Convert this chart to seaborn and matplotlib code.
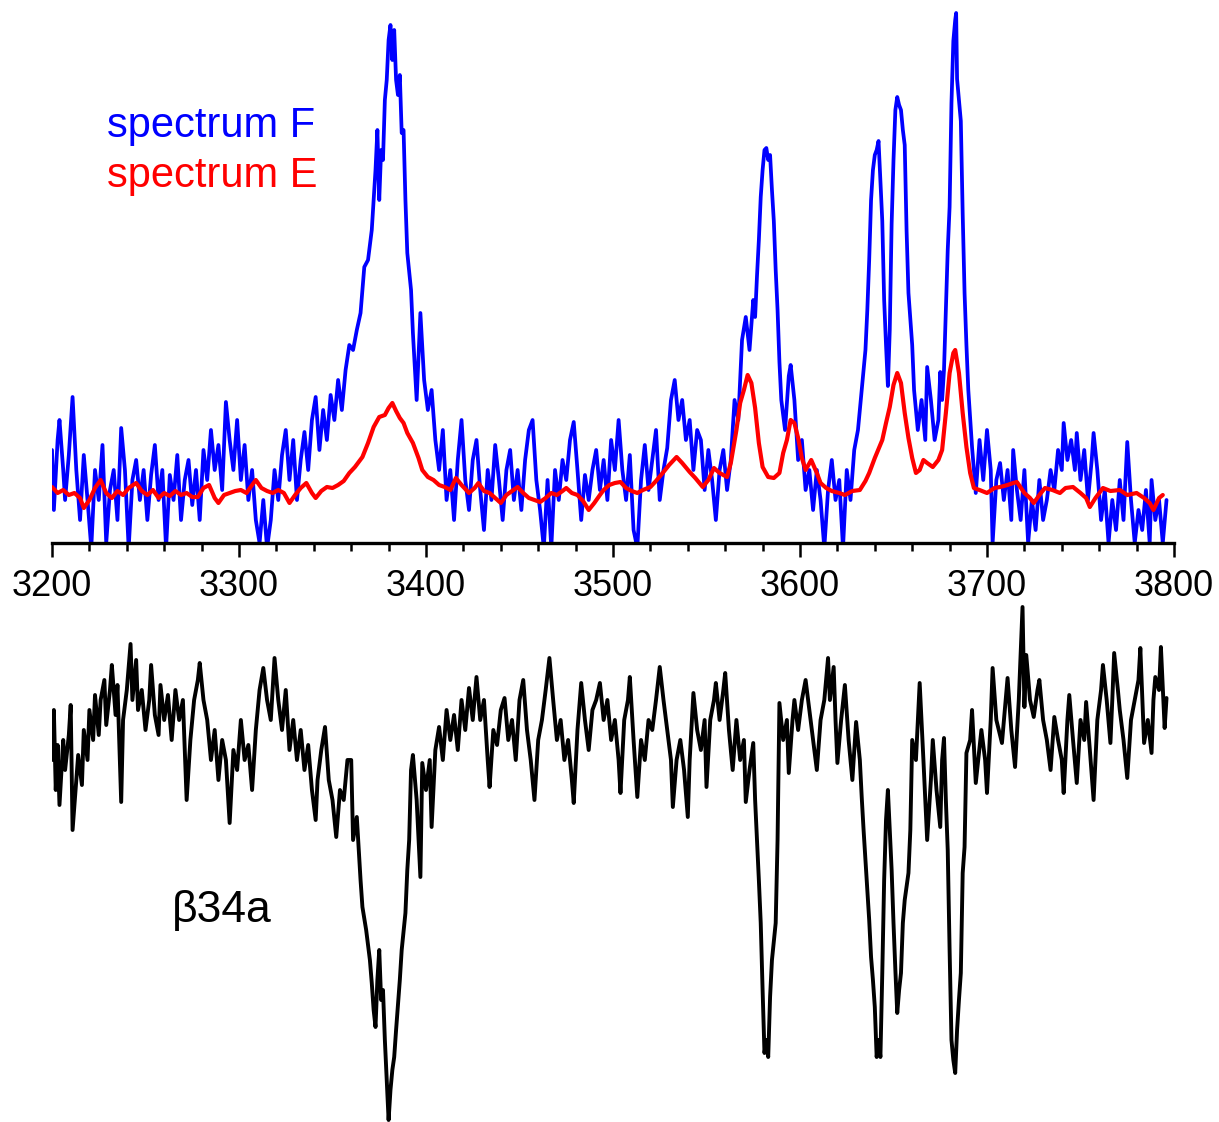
import numpy as np
import pandas as pd
import matplotlib
matplotlib.use("Agg")
import matplotlib.pyplot as plt
import seaborn as sns

# ---- data (wavenumber, cm^-1 ; intensity in arbitrary units) ----
wn_F = [3200, 3201, 3203, 3204, 3206, 3207, 3209, 3211, 3213, 3215, 3217, 3219, 3221, 3223, 3225, 3227, 3229,
        3231, 3233, 3235, 3237, 3239, 3241, 3243, 3245, 3247, 3249, 3251, 3253, 3255, 3257, 3259, 3261, 3263,
        3265, 3267, 3269, 3271, 3273, 3275, 3277, 3279, 3281, 3283, 3285, 3287, 3289, 3291, 3293, 3295, 3297,
        3299, 3301, 3303, 3305, 3307, 3309, 3311, 3313, 3315, 3317, 3319, 3321, 3323, 3325, 3327, 3329, 3331,
        3333, 3335, 3337, 3339, 3341, 3343, 3345, 3347, 3349, 3351, 3353, 3355, 3357, 3359, 3361, 3363, 3365,
        3367, 3369, 3371, 3372, 3373, 3374, 3375, 3376, 3377, 3378, 3379, 3380, 3381, 3382, 3383, 3384, 3385,
        3386, 3387, 3388, 3389, 3390, 3392, 3393, 3395, 3397, 3399, 3401, 3403, 3405, 3407, 3409, 3411, 3413,
        3415, 3417, 3419, 3421, 3423, 3425, 3427, 3429, 3431, 3433, 3435, 3437, 3439, 3441, 3443, 3445, 3447,
        3449, 3451, 3453, 3455, 3457, 3459, 3461, 3463, 3465, 3467, 3469, 3471, 3473, 3475, 3477, 3479, 3481,
        3483, 3485, 3487, 3489, 3491, 3493, 3495, 3497, 3499, 3501, 3503, 3505, 3507, 3509, 3511, 3513, 3515,
        3517, 3519, 3521, 3523, 3525, 3527, 3529, 3531, 3533, 3535, 3537, 3539, 3541, 3543, 3545, 3547, 3549,
        3551, 3553, 3555, 3557, 3559, 3561, 3563, 3565, 3567, 3569, 3571, 3573, 3575, 3576, 3577, 3578, 3579,
        3580, 3581, 3582, 3583, 3584, 3585, 3586, 3587, 3588, 3589, 3590, 3592, 3594, 3595, 3597, 3599, 3601,
        3603, 3605, 3607, 3609, 3611, 3613, 3615, 3617, 3619, 3621, 3623, 3625, 3627, 3629, 3631, 3633, 3635,
        3636, 3637, 3638, 3639, 3640, 3641, 3642, 3643, 3644, 3645, 3646, 3647, 3648, 3649, 3650, 3651, 3652,
        3653, 3654, 3655, 3656, 3657, 3658, 3660, 3661, 3663, 3665, 3667, 3668, 3670, 3672, 3674, 3675, 3676,
        3677, 3678, 3679, 3680, 3681, 3682, 3683, 3683.5, 3684, 3685, 3686, 3687, 3688, 3689, 3690, 3692, 3694,
        3696, 3698, 3700, 3702, 3703, 3705, 3707, 3709, 3711, 3713, 3714, 3716, 3718, 3720, 3722, 3724, 3726,
        3728, 3730, 3732, 3734, 3736, 3738, 3740, 3741, 3743, 3745, 3747, 3748, 3750, 3752, 3754, 3756, 3757,
        3759, 3761, 3763, 3765, 3767, 3769, 3771, 3773, 3775, 3777, 3779, 3781, 3783, 3785, 3787, 3788, 3790,
        3792, 3794, 3796]
spec_F = [93, 33, 103, 123, 73, 43, 88, 146, 73, 23, 88, 43, -5, 73, 43, 98, 0,
          53, 73, 23, 115, 73, -5, 63, 83, 43, 73, 23, 68, 98, 43, 73, -5, 68,
          43, 88, 23, 63, 83, 38, 73, 23, 93, 63, 113, 73, 98, 53, 141, 103, 73,
          123, 63, 98, 43, 73, 23, 0, 43, -5, 23, 73, 43, 88, 113, 63, 103, 43,
          83, 111, 73, 123, 146, 93, 133, 103, 148, 123, 163, 133, 173, 198, 193, 213, 230,
          276, 283, 313, 343, 373, 413, 343, 393, 383, 443, 463, 503, 518, 483, 513, 463, 448,
          468, 410, 413, 343, 290, 253, 210, 143, 230, 163, 133, 153, 103, 73, 113, 43, 73,
          23, 83, 123, 63, 33, 83, 103, 53, 13, 73, 43, 98, 63, 23, 73, 93, 43,
          73, 33, 83, 113, 123, 63, 33, -5, 63, -5, 73, 43, 83, 63, 103, 121, 73,
          23, 68, 43, 73, 93, 53, 83, 43, 103, 73, 123, 73, 43, 88, 13, -5, 63,
          98, 53, 83, 113, 43, 73, 95, 143, 163, 123, 143, 103, 123, 73, 113, 103, 53,
          93, 63, 23, 73, 93, 53, 83, 143, 123, 203, 226, 193, 243, 226, 267, 303, 346,
          373, 393, 395, 383, 388, 353, 322, 273, 233, 181, 143, 113, 167, 178, 143, 83, 103,
          53, 73, 33, 73, 43, -5, 53, 83, 43, 63, -5, 73, 43, 93, 113, 153, 193,
          233, 283, 343, 373, 388, 393, 402, 363, 322, 243, 198, 157, 213, 319, 383, 433, 446,
          438, 433, 413, 398, 312, 250, 198, 153, 113, 143, 103, 176, 143, 103, 123, 171, 143,
          173, 233, 293, 336, 440, 502, 523, 530, 464, 443, 422, 329, 250, 198, 153, 96, 50,
          103, 63, 113, 73, 0, 63, 80, 43, 73, 23, 93, 53, 23, 73, 0, 43, 13,
          63, 23, 43, 73, 53, 93, 73, 120, 83, 103, 73, 110, 63, 93, 43, 83, 110,
          73, 23, 53, 0, 43, 13, 63, 23, 101, 43, 0, 33, 13, 53, 0, 63, 23,
          43, 0, 43]

wn_E = [3200, 3203, 3206, 3209, 3212, 3215, 3217, 3220, 3223, 3226, 3229, 3232, 3235, 3238, 3241, 3245, 3248,
        3251, 3254, 3257, 3260, 3263, 3266, 3269, 3272, 3275, 3278, 3281, 3284, 3287, 3289, 3292, 3295, 3298,
        3301, 3304, 3307, 3309, 3312, 3315, 3318, 3321, 3324, 3327, 3330, 3333, 3336, 3339, 3341, 3344, 3347,
        3350, 3353, 3356, 3359, 3362, 3366, 3369, 3372, 3375, 3378, 3380, 3382, 3384, 3386, 3388, 3390, 3393,
        3396, 3398, 3401, 3404, 3407, 3410, 3413, 3416, 3419, 3423, 3426, 3428, 3431, 3434, 3437, 3440, 3443,
        3446, 3449, 3452, 3455, 3458, 3461, 3464, 3467, 3470, 3473, 3475, 3478, 3481, 3484, 3487, 3490, 3493,
        3495, 3498, 3501, 3504, 3507, 3510, 3513, 3516, 3520, 3523, 3527, 3530, 3534, 3537, 3541, 3544, 3548,
        3551, 3554, 3557, 3561, 3563, 3566, 3568, 3570, 3572, 3574, 3576, 3578, 3580, 3583, 3586, 3589, 3591,
        3593, 3595, 3597, 3599, 3601, 3603, 3606, 3609, 3611, 3614, 3617, 3621, 3624, 3628, 3632, 3635, 3637,
        3640, 3644, 3646, 3648, 3650, 3652, 3654, 3656, 3658, 3660, 3662, 3664, 3666, 3668, 3671, 3674, 3676,
        3678, 3680, 3682, 3683, 3685, 3687, 3689, 3691, 3693, 3696, 3700, 3704, 3707, 3711, 3714, 3716, 3720,
        3723, 3725, 3728, 3731, 3735, 3739, 3742, 3746, 3750, 3753, 3755, 3758, 3762, 3766, 3771, 3775, 3780,
        3784, 3787, 3789, 3792, 3794]
spec_E = [56, 50, 53, 48, 50, 45, 35, 43, 55, 63, 50, 45, 52, 48, 55, 60, 52,
          48, 53, 45, 50, 47, 52, 48, 50, 46, 46, 55, 58, 45, 40, 48, 50, 52,
          53, 50, 58, 63, 55, 52, 50, 53, 50, 40, 48, 55, 60, 50, 45, 52, 56,
          55, 58, 62, 70, 76, 86, 100, 116, 126, 128, 135, 140, 132, 125, 120, 110, 100,
          85, 73, 66, 63, 58, 56, 53, 65, 58, 50, 55, 60, 52, 50, 45, 40, 48,
          52, 56, 50, 45, 43, 41, 45, 50, 48, 52, 55, 50, 48, 42, 33, 40, 48,
          53, 58, 60, 61, 55, 52, 50, 53, 56, 62, 71, 78, 86, 80, 71, 65, 56,
          63, 75, 70, 66, 80, 113, 140, 153, 168, 160, 135, 100, 76, 66, 65, 70, 90,
          103, 123, 120, 105, 85, 73, 83, 70, 60, 55, 52, 50, 48, 52, 53, 62, 70,
          85, 103, 120, 136, 158, 170, 160, 130, 105, 85, 70, 73, 83, 80, 76, 83, 93,
          130, 170, 190, 193, 170, 130, 96, 70, 55, 53, 50, 55, 56, 58, 60, 61, 50,
          45, 40, 48, 55, 53, 50, 55, 56, 50, 45, 36, 45, 55, 52, 53, 48, 50,
          45, 40, 33, 45, 48]

wn_b34a = [3200, 3201, 3202, 3203, 3204, 3206, 3207, 3209, 3210, 3211, 3213, 3214, 3216, 3217, 3219, 3220, 3222,
           3223, 3225, 3226, 3228, 3229, 3231, 3232, 3234, 3235, 3237, 3238, 3240, 3242, 3243, 3245, 3246, 3248,
           3250, 3252, 3253, 3255, 3257, 3258, 3260, 3262, 3264, 3266, 3268, 3270, 3272, 3274, 3276, 3278, 3279,
           3281, 3283, 3285, 3287, 3289, 3291, 3293, 3295, 3297, 3299, 3301, 3303, 3305, 3307, 3309, 3311, 3313,
           3315, 3317, 3319, 3321, 3323, 3325, 3327, 3329, 3331, 3333, 3335, 3337, 3339, 3341, 3342, 3344, 3346,
           3348, 3350, 3352, 3354, 3356, 3358, 3360, 3361, 3363, 3365, 3366, 3368, 3370, 3371, 3372, 3373, 3374,
           3375, 3376, 3377, 3378, 3379, 3380, 3381, 3382, 3383, 3384, 3386, 3387, 3389, 3390, 3391, 3392, 3393,
           3395, 3397, 3398, 3400, 3402, 3403, 3405, 3407, 3409, 3411, 3413, 3415, 3417, 3419, 3421, 3423, 3425,
           3427, 3429, 3431, 3433, 3434, 3436, 3438, 3440, 3442, 3444, 3446, 3448, 3450, 3452, 3454, 3456, 3458,
           3460, 3462, 3464, 3466, 3468, 3470, 3472, 3474, 3476, 3478, 3479, 3481, 3483, 3485, 3487, 3489, 3491,
           3493, 3495, 3497, 3499, 3501, 3503, 3504, 3506, 3508, 3509, 3511, 3513, 3515, 3517, 3519, 3521, 3523,
           3525, 3527, 3529, 3531, 3532, 3534, 3536, 3538, 3540, 3541, 3543, 3545, 3547, 3549, 3550, 3552, 3554,
           3555, 3557, 3559, 3560, 3562, 3564, 3566, 3568, 3570, 3571, 3573, 3575, 3576, 3577, 3578, 3579, 3580,
           3581, 3582, 3583, 3584, 3585, 3587, 3588, 3589, 3591, 3593, 3594, 3596, 3597, 3599, 3601, 3603, 3605,
           3607, 3609, 3611, 3613, 3615, 3616, 3618, 3619, 3620, 3622, 3624, 3626, 3628, 3630, 3632, 3633, 3634,
           3635, 3637, 3638, 3639, 3640, 3641, 3642, 3643, 3644, 3645, 3646, 3647, 3648, 3649, 3650, 3651, 3652,
           3653, 3654, 3655, 3656, 3658, 3659, 3660, 3662, 3664, 3666, 3668, 3670, 3671, 3673, 3675, 3676, 3677,
           3678, 3679, 3680, 3681, 3682, 3683, 3684, 3685, 3686, 3687, 3688, 3689, 3691, 3692, 3694, 3697, 3699,
           3700, 3702, 3703, 3705, 3708, 3710, 3711, 3713, 3715, 3717, 3719, 3720, 3721, 3723, 3725, 3727, 3728,
           3730, 3732, 3734, 3736, 3738, 3740, 3741, 3743, 3744, 3746, 3748, 3750, 3752, 3753, 3755, 3757, 3759,
           3761, 3762, 3764, 3766, 3767, 3768, 3770, 3771, 3773, 3775, 3777, 3779, 3781, 3782, 3784, 3786, 3788,
           3789, 3790, 3792, 3793, 3795, 3796]
spec_b34a = [362, 412, 332, 377, 317, 382, 352, 387, 417, 292, 342, 367, 337, 392, 362, 412, 382,
             427, 387, 422, 442, 397, 432, 457, 407, 437, 320, 402, 432, 478, 422, 462, 412, 432,
             392, 422, 457, 407, 387, 437, 402, 427, 382, 432, 402, 422, 322, 382, 422, 442, 459,
             422, 402, 362, 392, 342, 382, 362, 299, 372, 352, 402, 362, 377, 332, 392, 432, 454,
             422, 402, 464, 422, 392, 432, 372, 402, 362, 392, 352, 377, 332, 302, 342, 372, 395,
             342, 322, 285, 332, 322, 362, 362, 282, 305, 242, 215, 192, 162, 139, 112, 95, 142,
             172, 122, 132, 82, 42, 2, 32, 52, 65, 92, 142, 172, 209, 252, 282, 352, 367,
             322, 245, 359, 332, 362, 295, 372, 395, 362, 412, 382, 407, 372, 422, 392, 434, 402,
             445, 402, 422, 362, 335, 392, 377, 412, 424, 382, 402, 362, 422, 442, 392, 362, 322,
             382, 402, 432, 464, 422, 382, 402, 362, 382, 342, 319, 392, 439, 402, 372, 412, 422,
             439, 402, 422, 382, 402, 362, 329, 402, 422, 445, 382, 325, 382, 362, 402, 392, 422,
             455, 422, 392, 362, 315, 362, 382, 352, 305, 362, 429, 392, 372, 402, 335, 402, 422,
             439, 402, 432, 449, 392, 352, 402, 362, 382, 320, 352, 379, 322, 282, 242, 199, 132,
             69, 82, 65, 125, 162, 199, 282, 419, 382, 402, 349, 402, 422, 392, 422, 442, 412,
             382, 352, 402, 422, 464, 422, 455, 402, 359, 402, 437, 382, 342, 400, 362, 325, 292,
             262, 202, 165, 142, 115, 65, 82, 65, 149, 242, 302, 332, 292, 252, 199, 152, 109,
             132, 149, 199, 222, 249, 292, 382, 362, 439, 362, 282, 342, 382, 332, 295, 362, 384,
             322, 272, 172, 82, 62, 49, 92, 122, 149, 249, 275, 369, 382, 412, 339, 392, 362,
             329, 402, 454, 402, 379, 422, 444, 392, 355, 422, 515, 415, 467, 422, 405, 432, 442,
             402, 382, 352, 405, 382, 362, 329, 402, 427, 382, 339, 402, 382, 420, 372, 322, 402,
             432, 457, 422, 379, 422, 469, 432, 412, 382, 344, 402, 422, 442, 474, 379, 402, 369,
             422, 445, 432, 475, 394, 424]

x_ticks_major = [3200, 3300, 3400, 3500, 3600, 3700, 3800]
label_F = "spectrum F"
label_E = "spectrum E"
label_b = "\u03b234a"

# ---- figure ----
sns.set_theme(style="white")
plt.rcParams["font.family"] = ["Liberation Sans", "DejaVu Sans"]
plt.rcParams["text.color"] = "black"
plt.rcParams["xtick.color"] = "black"
plt.rcParams["xtick.labelcolor"] = "black"

W, H = 1219, 1122
fig = plt.figure(figsize=(W / 100, H / 100), dpi=100)
left = 52 / W
width = 1122 / W
axis_frac = (H - 543) / H

ax_top = fig.add_axes([left, axis_frac, width, 1 - axis_frac])
ax_bot = fig.add_axes([left, 0, width, axis_frac])

df_F = pd.DataFrame({"wn": wn_F, "I": spec_F})
df_E = pd.DataFrame({"wn": wn_E, "I": spec_E})
df_b = pd.DataFrame({"wn": wn_b34a, "I": spec_b34a})

sns.lineplot(data=df_F, x="wn", y="I", color="#0000ff", linewidth=2.7, ax=ax_top)
sns.lineplot(data=df_E, x="wn", y="I", color="#ff0000", linewidth=3.0, ax=ax_top)
sns.lineplot(data=df_b, x="wn", y="I", color="black", linewidth=2.8, ax=ax_bot)

for ax in (ax_top, ax_bot):
    ax.set_xlim(3200, 3800)
    ax.set_xlabel("")
    ax.set_ylabel("")
    ax.grid(False)
    ax.patch.set_visible(False)

ax_top.set_ylim(0, 543)
ax_bot.set_ylim(0, 579)
ax_bot.set_axis_off()

for s in ("top", "left", "right"):
    ax_top.spines[s].set_visible(False)
ax_top.spines["bottom"].set_linewidth(2.4)
ax_top.spines["bottom"].set_color("black")
ax_top.set_yticks([])
ax_top.set_xticks(x_ticks_major)
ax_top.set_xticks(np.arange(3220, 3800, 20), minor=True)
ax_top.tick_params(axis="x", which="major", direction="out", length=10, width=1.8,
                   color="black", labelcolor="black", labelsize=26, pad=9, bottom=True)
ax_top.tick_params(axis="x", which="minor", direction="out", length=6, width=1.8,
                   color="black", bottom=True)
ax_top.set_xticklabels([str(t) for t in x_ticks_major])

fig.text(107 / W, 1 - 137 / H, label_F, color="#0000ff", fontsize=30, va="baseline", ha="left")
fig.text(107 / W, 1 - 187 / H, label_E, color="#ff0000", fontsize=30, va="baseline", ha="left")
fig.text(172 / W, 1 - 922 / H, label_b, color="black", fontsize=32, va="baseline", ha="left")

fig.savefig("out.png", dpi=100)
